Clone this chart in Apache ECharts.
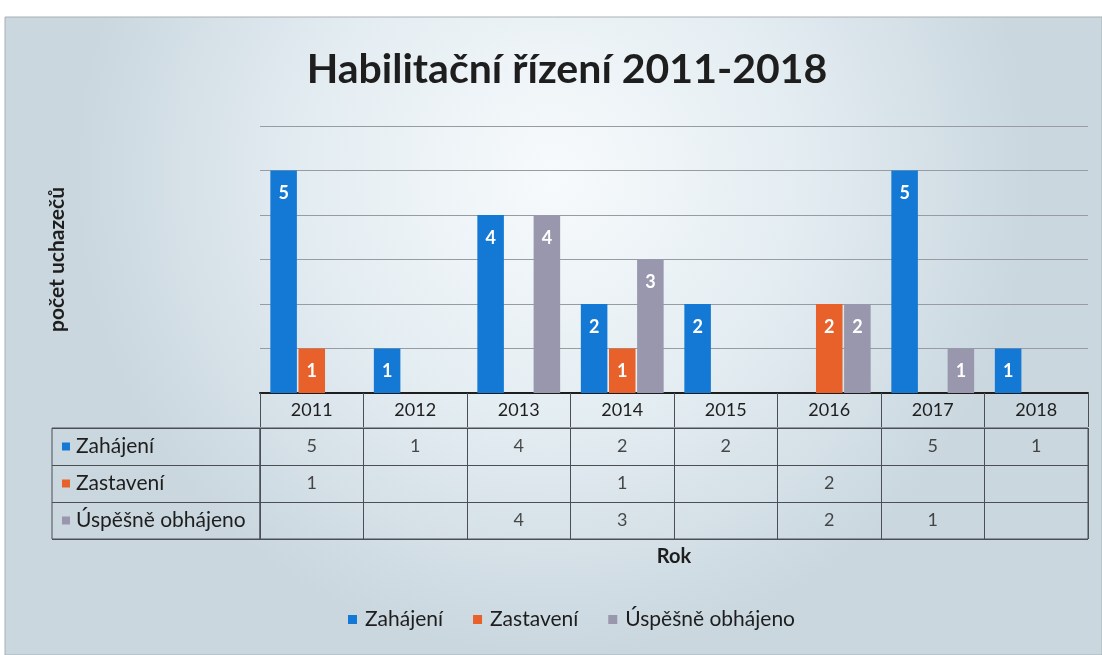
<!DOCTYPE html>
<html>
<head>
<meta charset="utf-8">
<script src="https://cdn.jsdelivr.net/npm/echarts@6/dist/echarts.min.js"></script>
<style>
  html, body { margin: 0; padding: 0; background: #ffffff; }
  #chart { width: 1102px; height: 655px; }
</style>
</head>
<body>
<div id="chart"></div>
<script>
// roky a hodnoty (prázdná buňka = null)
const years = ['2011', '2012', '2013', '2014', '2015', '2016', '2017', '2018'];
const seriesNames = ['Zahájení', 'Zastavení', 'Úspěšně obhájeno'];
const zahajeni = [5, 1, 4, 2, 2, null, 5, 1];
const zastaveni = [1, null, null, 1, null, 2, null, null];
const obhajeno = [null, null, 4, 3, null, 2, 1, null];
const colors = ['#1479d4', '#e8612a', '#9897ad'];

const allValues = [zahajeni, zastaveni, obhajeno];
const font = 'Lato, "Open Sans", sans-serif';
const lineColor = '#4a4f55';
const textColor = '#1e1e1e';

// buňky tabulky: [sloupec, řádek, hodnota]
const cellData = [];
allValues.forEach((vals, row) => {
    vals.forEach((v, col) => {
        if (v !== null) cellData.push([col, row, v]);
    });
});

const chart = echarts.init(document.getElementById('chart'));

const barSeries = seriesNames.map((name, i) => ({
    name: name,
    type: 'bar',
    xAxisIndex: 0,
    yAxisIndex: 0,
    data: allValues[i],
    barGap: '6%',
    barCategoryGap: '20%',
    itemStyle: { color: colors[i] },
    label: {
        show: true,
        position: 'insideTop',
        distance: 14,
        color: '#ffffff',
        fontFamily: font,
        fontWeight: 'bold',
        fontSize: 18
    }
}));

const rich = { t: { fontSize: 21, color: textColor, fontFamily: font, padding: [0, 0, 0, 6] } };
colors.forEach((c, i) => {
    rich['s' + i] = { width: 8, height: 8, backgroundColor: c };
});

const option = {
    backgroundColor: '#ffffff',
    textStyle: { fontFamily: font },
    graphic: [{
        type: 'rect',
        z: -10,
        silent: true,
        shape: { x: 5, y: 17, width: 1097, height: 638 },
        style: {
            fill: new echarts.graphic.RadialGradient(0.5, 0.25, 0.75, [
                { offset: 0, color: '#f7fafc' },
                { offset: 0.5, color: '#e4edf2' },
                { offset: 1, color: '#cad7df' }
            ]),
            stroke: '#a9b0b6',
            lineWidth: 1
        }
    }],
    title: {
        text: 'Habilitační řízení 2011-2018',
        left: 562,
        textAlign: 'center',
        top: 44,
        textStyle: { fontFamily: font, fontWeight: 'bold', fontSize: 41, color: textColor }
    },
    legend: {
        bottom: 20,
        left: 343,
        icon: 'rect',
        itemWidth: 9,
        itemHeight: 9,
        itemGap: 30,
        data: seriesNames,
        textStyle: { fontFamily: font, fontSize: 21, color: textColor, padding: [0, 0, 0, 3] }
    },
    grid: [
        { left: 260, right: 14, top: 126, bottom: 262 },
        { left: 260, right: 14, top: 428, bottom: 116, show: true, borderColor: lineColor, borderWidth: 1 },
        { left: 52, width: 208, top: 428, bottom: 116, show: true, borderColor: lineColor, borderWidth: 1 }
    ],
    xAxis: [
        {
            gridIndex: 0,
            type: 'category',
            data: years,
            axisLine: { lineStyle: { color: textColor, width: 2 } },
            axisTick: { show: true, length: 34, lineStyle: { color: lineColor, width: 1 } },
            axisLabel: { fontFamily: font, fontSize: 18, color: textColor, margin: 8 },
            name: 'Rok',
            nameLocation: 'middle',
            nameGap: 154,
            nameTextStyle: { fontFamily: font, fontWeight: 'bold', fontSize: 20, color: textColor }
        },
        {
            gridIndex: 1,
            type: 'category',
            data: years,
            axisLine: { show: false },
            axisTick: { show: false },
            axisLabel: { show: false },
            splitLine: { show: true, lineStyle: { color: lineColor, width: 1 } }
        },
        {
            gridIndex: 2,
            type: 'value',
            show: false
        }
    ],
    yAxis: [
        {
            gridIndex: 0,
            type: 'value',
            min: 0,
            max: 6,
            interval: 1,
            axisLine: { show: false },
            axisTick: { show: false },
            axisLabel: { show: false },
            splitLine: { lineStyle: { color: '#969ca2', width: 1 } },
            name: 'počet uchazečů',
            nameLocation: 'middle',
            nameRotate: 90,
            nameGap: 192,
            nameTextStyle: { fontFamily: font, fontWeight: 'bold', fontSize: 21, color: textColor }
        },
        {
            gridIndex: 1,
            type: 'category',
            inverse: true,
            data: seriesNames,
            axisLine: { show: false },
            axisTick: { show: false },
            axisLabel: { show: false },
            splitLine: { show: true, lineStyle: { color: lineColor, width: 1 } }
        },
        {
            gridIndex: 2,
            type: 'category',
            inverse: true,
            data: seriesNames,
            axisLine: { show: false },
            axisTick: { show: false },
            splitLine: { show: true, lineStyle: { color: lineColor, width: 1 } },
            axisLabel: {
                inside: true,
                margin: 10,
                formatter: (v, i) => `{s${i}|}{t|${v}}`,
                rich: rich
            }
        }
    ],
    series: barSeries.concat([{
        type: 'scatter',
        xAxisIndex: 1,
        yAxisIndex: 1,
        symbolSize: 1,
        itemStyle: { color: 'rgba(0,0,0,0)' },
        silent: true,
        data: cellData,
        label: {
            show: true,
            position: 'inside',
            formatter: p => p.value[2],
            fontFamily: font,
            fontSize: 18,
            color: textColor
        }
    }])
};

chart.setOption(option);
</script>
</body>
</html>
